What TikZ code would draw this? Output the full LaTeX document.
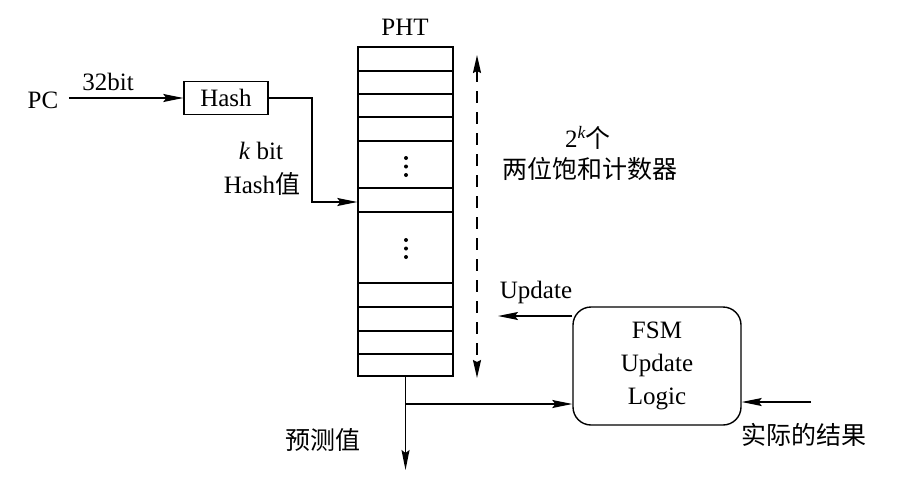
\documentclass[tikz,border=0pt]{standalone}
\usepackage{fontspec}
\setmainfont{Liberation Serif}
\newfontfamily\cjk{Noto Sans CJK SC}
\usetikzlibrary{arrows.meta}
\begin{document}
\begin{tikzpicture}[x=1pt,y=-1pt,
  font=\fontsize{25}{30}\selectfont,
  line width=1.4pt,
  arr/.style={-{Stealth[length=20pt,width=8pt,inset=3pt]}},
  darr/.style={{Stealth[length=18pt,width=8pt,inset=2pt]}-{Stealth[length=18pt,width=8pt,inset=2pt]}, dash pattern=on 12pt off 9pt, line width=1.8pt},
  box/.style={draw, inner sep=0pt},
  lbl/.style={inner sep=0pt, align=center},
  cn/.style={font=\fontsize{25}{30}\cjk}]
\useasboundingbox (0,0) rectangle (902,482);

% nodes
\node[lbl, anchor=base] (pc) at (43,108) {PC};
\node[box, minimum width=84pt, minimum height=33pt] (hash) at (226,98) {Hash};
\node[lbl, anchor=base] (b32) at (108,90) {32bit};
\node[box, minimum width=95pt, minimum height=329pt] (pht) at (405.5,211.5) {};
\node[lbl, anchor=base] (phtl) at (405,35) {PHT};
\node[lbl] (kbit) at (261,151) {\textit{k} bit};
\node[lbl] (hv) at (262,184) {Hash{\cjk 值}};
\node[lbl] (twok) at (588,138) {2\textsuperscript{\itshape k}{\cjk 个}};
\node[lbl, cn] (cnt) at (590,169) {两位饱和计数器};
\node[draw, rounded corners=18pt, minimum width=168pt, minimum height=118pt, align=center,
      font=\fontsize{25}{33}\selectfont] (fsm) at (657,366) {FSM\\Update\\Logic};
\node[lbl, anchor=base] (upd) at (536,298) {Update};
\node[lbl, cn] (pred) at (323,440) {预测值};
\node[lbl, cn] (act) at (804,435) {实际的结果};

% table rows
\foreach \y in {71,94,117,141,188,212,283,307,331,354}
  \draw[line width=1.3pt] (pht.west |- 0,\y) -- (pht.east |- 0,\y);
\foreach \y in {158,166.5,175,240,248.5,257}
  \fill (406,\y) circle (2pt);

% dashed range arrow
\coordinate (dtop) at (477,55);
\coordinate (dbot) at (477,378);
\draw[darr] (dtop) -- (dbot);

% connectors
\draw[arr] ([xshift=10pt]pc.east |- hash.west) -- (hash.west);
\draw[arr] (hash.east) -| (312,202) -- (pht.west |- 0,202);
\coordinate (updend) at (498,316);
\draw[arr] (fsm.west |- updend) -- (updend);
\coordinate (predend) at (405.5,470);
\draw[arr] (pht.south) -- (predend);
\draw[arr] (pht.south |- 0,404) -- (fsm.west |- 0,404);
\coordinate (ain) at (811,402);
\draw[arr] (ain) -- (fsm.east |- ain);
\end{tikzpicture}
\end{document}
